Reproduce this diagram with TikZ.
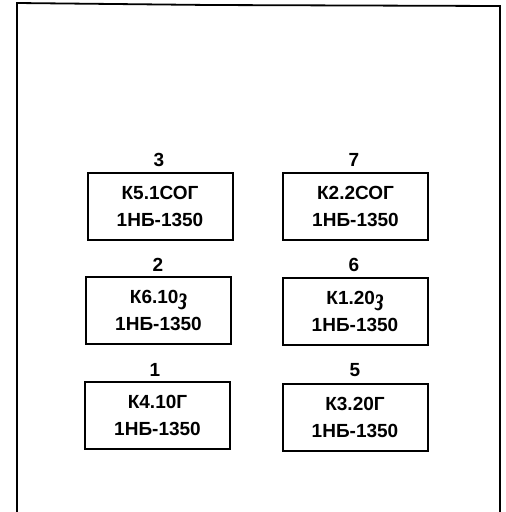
\documentclass[tikz,border=0pt]{standalone}
\usepackage{fontspec}
\setmainfont{Liberation Sans}
\newfontfamily\cursivefont{Liberation Serif}
\tikzset{
  unitbox/.style={draw, line width=2pt, minimum width=145pt, minimum height=67pt, inner sep=0pt, align=center, font=\bfseries\fontsize{19}{27}\selectfont},
  numlabel/.style={inner sep=0pt, font=\bfseries\fontsize{19}{20}\selectfont},
}
\newcommand{\zz}{\raisebox{-6pt}{\scalebox{1.15}[1.75]{\cursivefont\itshape з}}}
\begin{document}
\begin{tikzpicture}[x=1pt,y=-1pt]
\useasboundingbox (0,0) rectangle (506,512);
\coordinate (fl) at (17,513);
\coordinate (ftl) at (17,3);
\coordinate (ftm) at (210,5);
\coordinate (ftr) at (500,6);
\coordinate (fr) at (500,513);
\draw[line width=1.8pt] (fl) -- (ftl) -- (ftm) -- (ftr) -- (fr);

\node[unitbox] (b3) at (160,206) {К5.1СОГ\\1НБ-1350};
\node[unitbox] (b7) at (355.5,206) {К2.2СОГ\\1НБ-1350};
\node[unitbox] (b2) at (158.5,310.5) {К6.10\zz\\1НБ-1350};
\node[unitbox] (b6) at (355,311.5) {К1.20\zz\\1НБ-1350};
\node[unitbox] (b1) at (157.5,415.5) {К4.10Г\\1НБ-1350};
\node[unitbox] (b5) at (355,417) {К3.20Г\\1НБ-1350};

\node[numlabel] (l3) at (159,160) {3};
\node[numlabel] (l7) at (354,160) {7};
\node[numlabel] (l2) at (158,265) {2};
\node[numlabel] (l6) at (354,265) {6};
\node[numlabel] (l1) at (155,370) {1};
\node[numlabel] (l5) at (355,370) {5};
\end{tikzpicture}
\end{document}
